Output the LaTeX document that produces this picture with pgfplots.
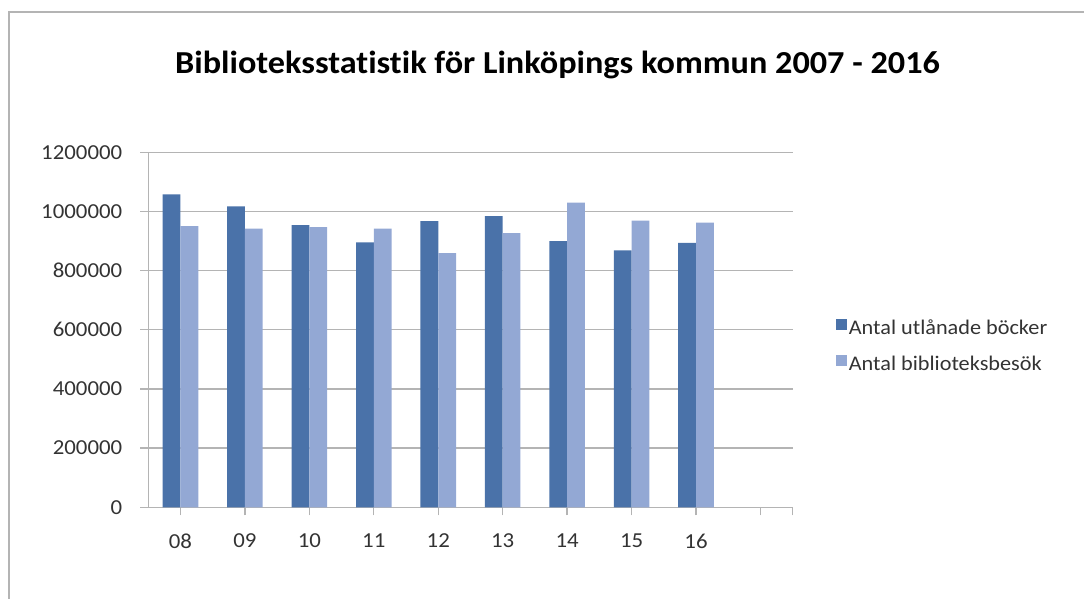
\documentclass[border=0pt]{standalone}
\usepackage{fontspec}
\setmainfont{Carlito}[FakeStretch=1.07, Ligatures=NoCommon]
\usepackage{pgfplots}
\pgfplotsset{compat=1.18}

\definecolor{utlan}{HTML}{4A72A9}
\definecolor{besok}{HTML}{93A8D4}
\definecolor{gridgray}{HTML}{B4B4B4}
\definecolor{txtgray}{HTML}{333333}

\begin{document}
\begin{tikzpicture}
\path[use as bounding box] (0pt,0pt) rectangle (813pt,449.25pt);
\draw[color=gridgray, line width=1.4pt] (6.8pt,-2pt) -- (6.8pt,440pt) -- (815pt,440pt);
\node[anchor=base, font=\bfseries\fontsize{24pt}{26pt}\selectfont] at (418.1pt,393.75pt)
  {Biblioteksstatistik för Linköpings kommun 2007 - 2016};
\begin{axis}[
    at={(111.2pt,68.8pt)}, anchor=south west,
    scale only axis, width=483.3pt, height=266.25pt,
    ybar=0pt, bar width=0.276,
    xmin=-0.5, xmax=9.5,
    ymin=0, ymax=1200000,
    xtick={0,1,2,3,4,5,6,7,8,9,9.5},
    xticklabels={08,09,10,11,12,13,14,15,16,{},{}},
    ytick={0,200000,400000,600000,800000,1000000,1200000},
    scaled y ticks=false,
    /pgf/number format/.cd, fixed, precision=0, 1000 sep={}, assume math mode=true, /pgfplots/.cd,
    axis x line*=bottom, axis y line*=left,
    axis line style={draw=gridgray, line width=1.1pt},
    ymajorgrids, major grid style={draw=gridgray, line width=1.1pt},
    tick align=outside, major tick length=6pt,
    tick style={draw=gridgray, line width=1pt},
    ticklabel style={font=\fontsize{16pt}{18pt}\selectfont, text=txtgray},
    xticklabel style={yshift=-10.5pt},
    yticklabel style={xshift=-10pt},
    legend cell align=left,
    legend style={draw=none, fill=none, at={(1.061,0.4502)}, anchor=west,
      font=\fontsize{15.6pt}{17pt}\selectfont, text=txtgray,
      nodes={inner sep=1pt, text height=11pt, text depth=3.5pt}, row sep=10.2pt},
    legend image code/.code={\fill[#1] (0pt,-0.6pt) rectangle (8.4pt,7.8pt);},
]
\addplot[fill=utlan, draw=none] coordinates {
    (0,1058000) (1,1017000) (2,954000) (3,895000) (4,967000)
    (5,984000) (6,900000) (7,868000) (8,894000)
};
\addplot[fill=besok, draw=none] coordinates {
    (0,950000) (1,942000) (2,947000) (3,942000) (4,859000)
    (5,927000) (6,1030000) (7,969000) (8,962000)
};
\legend{Antal utlånade böcker, Antal biblioteksbesök}
\end{axis}
\end{tikzpicture}
\end{document}
